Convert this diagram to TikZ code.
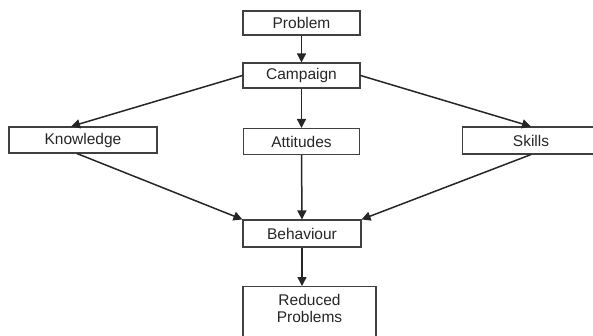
\documentclass[tikz,border=0pt]{standalone}
\usepackage{fontspec}
\setmainfont{Liberation Sans}
\usepackage{tikz}
\usetikzlibrary{arrows.meta}
\tikzset{
    x=1pt, y=-1pt,
    flow box/.style={shape=rectangle,draw=black!75,line width=1.1pt,inner sep=0,
        font=\fontsize{15.5}{17}\selectfont,text=black!85},
    flow arrow/.style={draw=black!85,line width=1.5pt,-{Triangle[length=9pt,width=9pt]}}
}
\begin{document}
\begin{tikzpicture}
    \useasboundingbox (0,0) rectangle (593,335);
    \begin{scope}
    \clip (0,0) rectangle (593,335);
    \node(prob)[flow box,minimum width=117,minimum height=24] at (301.5,23) {Problem};
    \node(camp)[flow box,minimum width=117,minimum height=25] at (301.5,75.5) {Campaign};
    \node(know)[flow box,minimum width=148,minimum height=26] at (83,140) {Knowledge};
    \node(att)[flow box,minimum width=116,minimum height=26] at (301.5,141.5) {Attitudes};
    \node(skill)[flow box,minimum width=137,minimum height=27] at (531,140.5) {Skills};
    \node(beh)[flow box,minimum width=118,minimum height=27] at (302,233.5) {Behaviour};
    \node(red)[flow box,minimum width=133,minimum height=60,anchor=north] at (309.5,286) {};
    \node(redtext)[flow box,draw=none,align=center,anchor=north] at (309.5,294) {Reduced\\Problems};
    %arrows
    \draw[flow arrow](prob)--(camp);
    \draw[flow arrow](camp.west)--([xshift=-12pt]know.north);
    \draw[flow arrow](camp)--(att);
    \draw[flow arrow](camp.east)--(skill.north);
    \draw[flow arrow]([xshift=-6pt]know.south)--(beh.north west);
    \draw[flow arrow](att)--(beh);
    \draw[flow arrow](skill.south)--(beh.north east);
    \draw[flow arrow](beh.south)--(beh.south|-red.north);
    \end{scope}
\end{tikzpicture}
\end{document}
